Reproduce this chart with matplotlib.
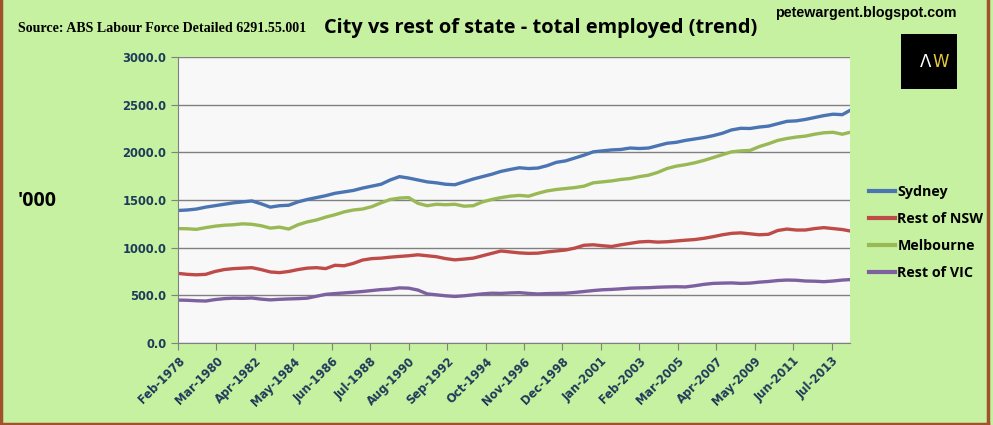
import numpy as np
import matplotlib
matplotlib.use("Agg")
import matplotlib.pyplot as plt
from matplotlib.patches import Rectangle
from matplotlib.lines import Line2D

# month index from Feb-1978, sampled every 6 months (last point Jul-2014)
months = list(range(0, 433, 6)) + [437]

sydney = [1390, 1395, 1405, 1425, 1440, 1455, 1470, 1480, 1490, 1460,
          1425, 1440, 1445, 1480, 1505, 1525, 1545, 1570, 1585, 1600,
          1625, 1645, 1665, 1710, 1745, 1730, 1710, 1690, 1680, 1665,
          1660, 1690, 1720, 1745, 1770, 1800, 1820, 1838, 1830, 1835,
          1860, 1895, 1910, 1940, 1970, 2005, 2015, 2025, 2030, 2045,
          2040, 2045, 2070, 2095, 2105, 2125, 2140, 2155, 2175, 2200,
          2235, 2252, 2250, 2265, 2275, 2300, 2325, 2330, 2345, 2365,
          2385, 2400, 2395, 2440]
rest_nsw = [730, 720, 715, 720, 750, 770, 780, 785, 790, 770,
            745, 738, 750, 770, 785, 790, 780, 815, 810, 835,
            870, 885, 890, 900, 908, 915, 925, 915, 905, 885,
            872, 880, 890, 915, 940, 965, 955, 945, 940, 942,
            955, 965, 975, 995, 1025, 1030, 1020, 1012, 1030, 1045,
            1060, 1065, 1058, 1062, 1070, 1078, 1085, 1098, 1115, 1135,
            1150, 1155, 1145, 1135, 1140, 1180, 1195, 1185, 1185, 1200,
            1210, 1200, 1190, 1175]
melbourne = [1200, 1198, 1192, 1210, 1225, 1235, 1240, 1250, 1245, 1230,
             1205, 1215, 1195, 1240, 1270, 1290, 1320, 1345, 1375, 1395,
             1405, 1430, 1470, 1505, 1520, 1525, 1465, 1440, 1455, 1450,
             1455, 1435, 1440, 1480, 1505, 1525, 1540, 1548, 1540, 1570,
             1595, 1610, 1620, 1630, 1645, 1680, 1690, 1700, 1715, 1725,
             1745, 1760, 1790, 1830, 1855, 1870, 1890, 1915, 1945, 1975,
             2005, 2015, 2020, 2060, 2090, 2125, 2145, 2160, 2170, 2190,
             2205, 2210, 2190, 2210]
rest_vic = [450, 448, 443, 440, 455, 465, 470, 468, 472, 460,
            452, 458, 462, 465, 470, 490, 510, 518, 525, 532,
            540, 550, 560, 565, 578, 575, 555, 515, 505, 495,
            488, 495, 505, 515, 522, 520, 525, 528, 520, 514,
            518, 520, 522, 530, 540, 550, 558, 562, 568, 575,
            578, 580, 585, 588, 590, 588, 600, 615, 625, 628,
            630, 625, 628, 638, 645, 655, 660, 658, 650, 648,
            643, 650, 660, 665]

tick_labels = ["Feb-1978", "Mar-1980", "Apr-1982", "May-1984", "Jun-1986",
               "Jul-1988", "Aug-1990", "Sep-1992", "Oct-1994", "Nov-1996",
               "Dec-1998", "Jan-2001", "Feb-2003", "Mar-2005", "Apr-2007",
               "May-2009", "Jun-2011", "Jul-2013"]
tick_pos = [25 * i for i in range(len(tick_labels))]

series = [("Sydney", sydney, "#4a74b2"),
          ("Rest of NSW", rest_nsw, "#be4b48"),
          ("Melbourne", melbourne, "#98b954"),
          ("Rest of VIC", rest_vic, "#7d60a0")]

bg = "#c5f1a0"
navy = "#1f3a5a"

fig = plt.figure(figsize=(9.93, 4.25), dpi=100, facecolor=bg)
ax = fig.add_axes([0.1793, 0.193, 0.6767, 0.6729])
ax.set_facecolor("#f8f8f8")

for name, vals, col in series:
    ax.plot(months, vals, color=col, lw=2.4, label=name)

ax.set_xlim(0, 437)
ax.set_ylim(0, 3000)
ax.set_yticks(np.arange(0, 3001, 500))
ax.set_yticklabels(["%.1f" % v for v in np.arange(0, 3001, 500)])
ax.set_xticks(tick_pos)
ax.set_xticklabels(tick_labels, rotation=45, ha="right", rotation_mode="anchor")
ax.grid(axis="y", color="#808080", lw=1)
ax.set_axisbelow(True)
for s in ["top", "right"]:
    ax.spines[s].set_visible(False)
for s in ["left", "bottom"]:
    ax.spines[s].set_color("#808080")
ax.tick_params(axis="both", colors="#808080", labelcolor=navy, length=5,
               labelsize=8.3)
for lab in ax.get_xticklabels() + ax.get_yticklabels():
    lab.set_fontweight("bold")

leg = fig.legend(loc="upper left", bbox_to_anchor=(0.862, 0.596), frameon=False,
                 handlelength=1.8, handletextpad=0.2, labelspacing=0.92,
                 prop={"weight": "bold", "size": 10.3, "family": "Open Sans"})
for line in leg.get_lines():
    line.set_linewidth(3)

fig.text(0.018, 0.933, "Source: ABS Labour Force Detailed 6291.55.001",
         family="Liberation Serif", weight="bold", fontsize=10.1, va="center")
fig.text(0.544, 0.933, "City vs rest of state - total employed (trend)",
         family="Open Sans", weight="bold", fontsize=14.4, ha="center", va="center")
fig.text(0.8715, 0.969, "petewargent.blogspot.com", family="Liberation Sans",
         weight="bold", fontsize=10.3, ha="center", va="center")
fig.text(0.018, 0.527, "'000", family="Open Sans", weight="bold", fontsize=14,
         va="center")

fig.patches.append(Rectangle((0.907, 0.79), 0.057, 0.13, transform=fig.transFigure,
                             facecolor="black", edgecolor="none"))
fig.text(0.932, 0.855, "\u039b", color="white", fontsize=12, ha="center",
         va="center", family="DejaVu Sans")
fig.text(0.947, 0.855, "W", color="#e8c83a", fontsize=12, ha="center",
         va="center", family="DejaVu Sans")

# frame on left, bottom and right edges
border = "#a0522d"
fig.lines.append(Line2D([0.001, 0.001], [0.0, 1.0], transform=fig.transFigure,
                        color=border, lw=2.5))
fig.lines.append(Line2D([0.0, 0.995], [0.003, 0.003], transform=fig.transFigure,
                        color=border, lw=2.5))
fig.lines.append(Line2D([0.995, 0.995], [0.0, 1.0], transform=fig.transFigure,
                        color=border, lw=2.5))

fig.savefig("out.png", dpi=100, facecolor=bg)
